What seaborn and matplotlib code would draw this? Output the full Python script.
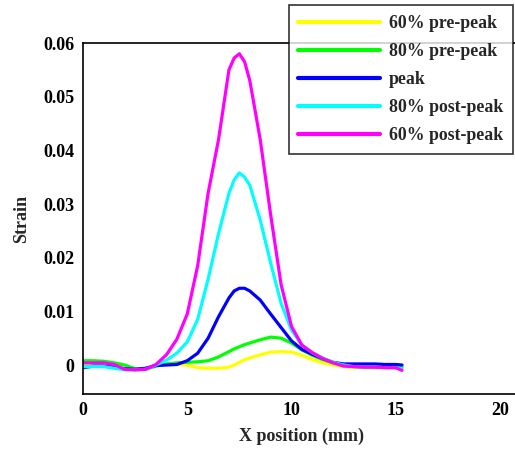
import numpy as np
import pandas as pd
import matplotlib
matplotlib.use("Agg")
import matplotlib.pyplot as plt
import seaborn as sns

x_mm = [0, 0.5, 1, 1.5, 2, 2.5, 3, 3.5, 4, 4.5, 5, 5.5, 6, 6.5, 7, 7.25, 7.5, 7.75,
        8, 8.5, 9, 9.5, 10, 10.5, 11, 11.5, 12, 12.5, 13, 13.5, 14, 14.5, 15, 15.3]

pre60 = [0.0002, 0.0002, 0.0, -0.0003, -0.0008, -0.0009, -0.0007, 0.0, 0.0001, 0.0001,
         0.0, -0.0005, -0.0006, -0.0006, -0.0004, 0.0, 0.0005, 0.001,
         0.0013, 0.0019, 0.0024, 0.0025, 0.0024, 0.0018, 0.001, 0.0004, 0.0, -0.0003,
         -0.0005, -0.0005, -0.0005, -0.0005, -0.0005, -0.0005]
pre80 = [0.0008, 0.0008, 0.0007, 0.0004, 0.0, -0.0007, -0.0008, -0.0002, 0.0002, 0.0004,
         0.0005, 0.0006, 0.0008, 0.0015, 0.0025, 0.003, 0.0034, 0.0038,
         0.0041, 0.0047, 0.0052, 0.005, 0.0041, 0.0028, 0.0018, 0.001, 0.0004, 0.0,
         -0.0003, -0.0004, -0.0004, -0.0004, -0.0004, -0.0004]
peak = [-0.0005, -0.0002, -0.0002, -0.0004, -0.0007, -0.0008, -0.0006, -0.0001, 0.0, 0.0001,
        0.0008, 0.0022, 0.005, 0.009, 0.0125, 0.0138, 0.0143, 0.0143,
        0.0138, 0.0121, 0.0095, 0.007, 0.0045, 0.0029, 0.002, 0.0012, 0.0005, 0.0002,
        0.0002, 0.0002, 0.0002, 0.0001, 0.0001, 0.0]
post80 = [-0.0003, -0.0003, -0.0003, -0.0006, -0.0009, -0.0009, -0.0008, 0.0, 0.0009, 0.0022,
          0.0043, 0.0085, 0.016, 0.0245, 0.032, 0.0345, 0.0358, 0.035,
          0.0335, 0.027, 0.019, 0.0115, 0.0065, 0.0037, 0.0023, 0.0013, 0.0005, 0.0,
          -0.0003, -0.0004, -0.0004, -0.0005, -0.0005, -0.0007]
post60 = [0.0004, 0.0004, 0.0004, 0.0001, -0.0008, -0.0009, -0.0008, 0.0001, 0.0019, 0.0048,
          0.0095, 0.0185, 0.032, 0.042, 0.055, 0.0572, 0.058, 0.0565,
          0.053, 0.042, 0.028, 0.015, 0.0072, 0.0037, 0.0023, 0.0012, 0.0004, -0.0002,
          -0.0003, -0.0004, -0.0004, -0.0005, -0.0005, -0.001]

series_labels = ["60% pre-peak", "80% pre-peak", "peak", "80% post-peak", "60% post-peak"]
series_colors = ["#ffff00", "#00ff00", "#0000ff", "#00ffff", "#ff00ff"]
yticks = [0, 0.01, 0.02, 0.03, 0.04, 0.05, 0.06]
ytick_labels = ["0", "0.01", "0.02", "0.03", "0.04", "0.05", "0.06"]
xticks = [0, 5, 10, 15, 20]

sns.set_style("white")
plt.rcParams['font.family'] = ['Liberation Serif', 'DejaVu Serif']
plt.rcParams['font.weight'] = 'bold'

fig = plt.figure(figsize=(5.15, 4.49), dpi=100)
ax = fig.add_axes([83/515, 55/449, 21*20.85/515, 351/449])

for lab, col, vals in zip(series_labels, series_colors, [pre60, pre80, peak, post80, post60]):
    df = pd.DataFrame({"x": x_mm, "y": vals})
    sns.lineplot(data=df, x="x", y="y", color=col, lw=2.3, label=lab, ax=ax, sort=False)

ax.set_xlim(0, 21)
ax.set_ylim(-0.0054, 0.06)
ax.set_xticks(xticks)
ax.set_xticklabels([str(t) for t in xticks], fontsize=13, fontweight='bold')
ax.set_yticks(yticks)
ax.set_yticklabels(ytick_labels, fontsize=13, fontweight='bold')
ax.tick_params(direction='in', length=4, width=1, colors='black', pad=6)
for s in ax.spines.values():
    s.set_color('black')
    s.set_linewidth(1.2)
ax.set_xlabel("X position (mm)", fontsize=13, fontweight='bold', labelpad=6)
ax.set_ylabel("Strain", fontsize=13, fontweight='bold', labelpad=10)

leg = ax.legend(loc='upper right', bbox_to_anchor=(513/515, 1 - 5/449),
                bbox_transform=fig.transFigure, prop={'size': 12.8, 'weight': 'bold'},
                frameon=True, fancybox=False, handlelength=4.6, labelspacing=0.62,
                borderpad=0.55, handletextpad=0.5, borderaxespad=0)
leg.get_frame().set_edgecolor('black')
leg.get_frame().set_linewidth(1.2)
for h in leg.get_lines():
    h.set_linewidth(3)

fig.savefig("out.png", dpi=100)
